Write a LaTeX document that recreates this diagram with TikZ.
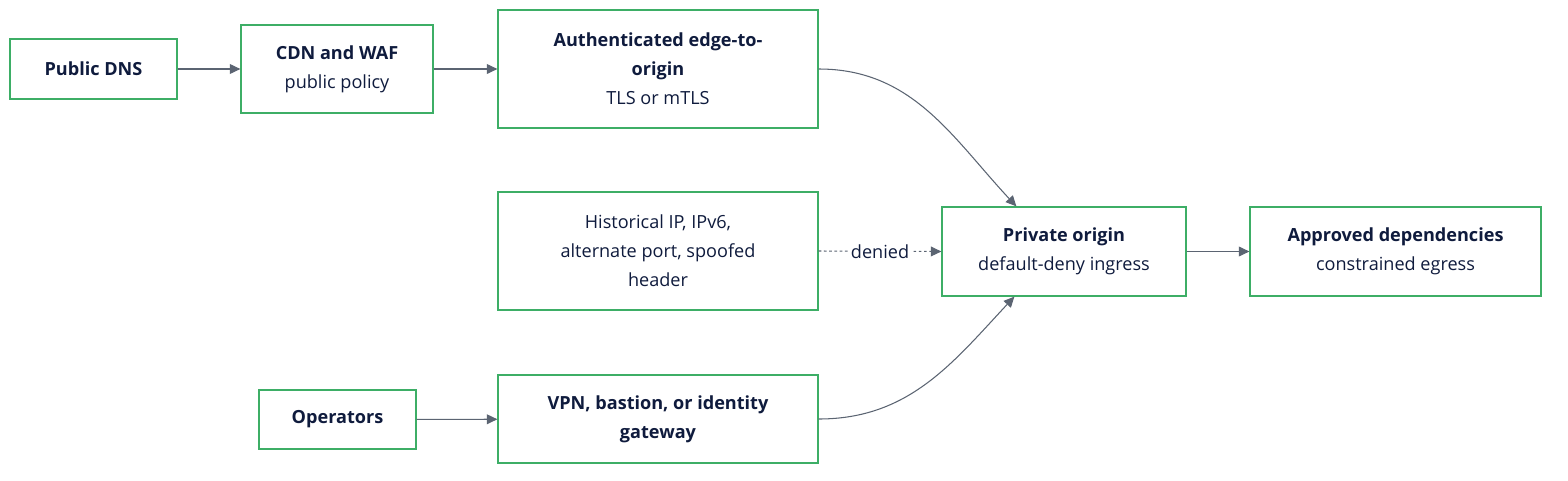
\documentclass[tikz,border=0pt]{standalone}
\usepackage{fontspec}
\setmainfont{Open Sans}
\usetikzlibrary{positioning,arrows.meta,calc}

\definecolor{boxgreen}{HTML}{3DAE66}
\definecolor{inkblue}{HTML}{0F1B3D}
\definecolor{wiregray}{HTML}{5B6472}

\begin{document}
\begin{tikzpicture}[x=0.02cm,y=-0.02cm,
    box/.style={draw=boxgreen,line width=0.75pt,fill=white,text=inkblue,align=center,
      inner sep=0pt,font=\fontsize{10.3}{16.4}\selectfont},
    wire/.style={draw=wiregray,line width=0.6pt,-{Triangle[length=6pt,width=5.6pt]}}]
  \useasboundingbox (0,0) rectangle (1568,480);

  % top row: public path
  \node[box,minimum width=3.34cm,minimum height=1.2cm] (dns) at (93.5,69) {\textbf{Public DNS}};
  \node[box,minimum width=3.84cm,minimum height=1.76cm] (cdn) at (337,69) {\textbf{CDN and WAF}\\public policy};
  \node[box,minimum width=6.4cm,minimum height=2.36cm] (edge) at (658,69) {\textbf{Authenticated edge-to-}\\\textbf{origin}\\TLS or mTLS};

  % middle row
  \node[box,minimum width=6.4cm,minimum height=2.36cm] (bypass) at (658,251) {Historical IP, IPv6,\\alternate port, spoofed\\header};
  \node[box,minimum width=4.88cm,minimum height=1.78cm] (origin) at (1064,251.5) {\textbf{Private origin}\\default-deny ingress};
  \node[box,minimum width=5.82cm,minimum height=1.78cm] (deps) at (1395.5,251.5) {\textbf{Approved dependencies}\\constrained egress};

  % bottom row: admin path
  \node[box,minimum width=3.14cm,minimum height=1.18cm] (ops) at (337.5,419.5) {\textbf{Operators}};
  \node[box,minimum width=6.4cm,minimum height=1.76cm] (gw) at (658,419) {\textbf{VPN, bastion, or identity}\\\textbf{gateway}};

  \draw[wire] (dns) -- (cdn);
  \draw[wire] (cdn) -- (edge);
  \draw[wire] (edge.east) to[out=0,in=133] ($(origin.north west)+(75,0)$);
  \draw[wire,dash pattern=on 1.5pt off 1.5pt] (bypass.east) -- node[fill=white,inner sep=1pt,text=inkblue,font=\fontsize{10.3}{12}\selectfont] {denied} (origin.west);
  \draw[wire] (gw.east) to[out=0,in=-133] ($(origin.south west)+(73,0)$);
  \draw[wire] (origin) -- (deps);
  \draw[wire] (ops) -- (gw);
\end{tikzpicture}
\end{document}
